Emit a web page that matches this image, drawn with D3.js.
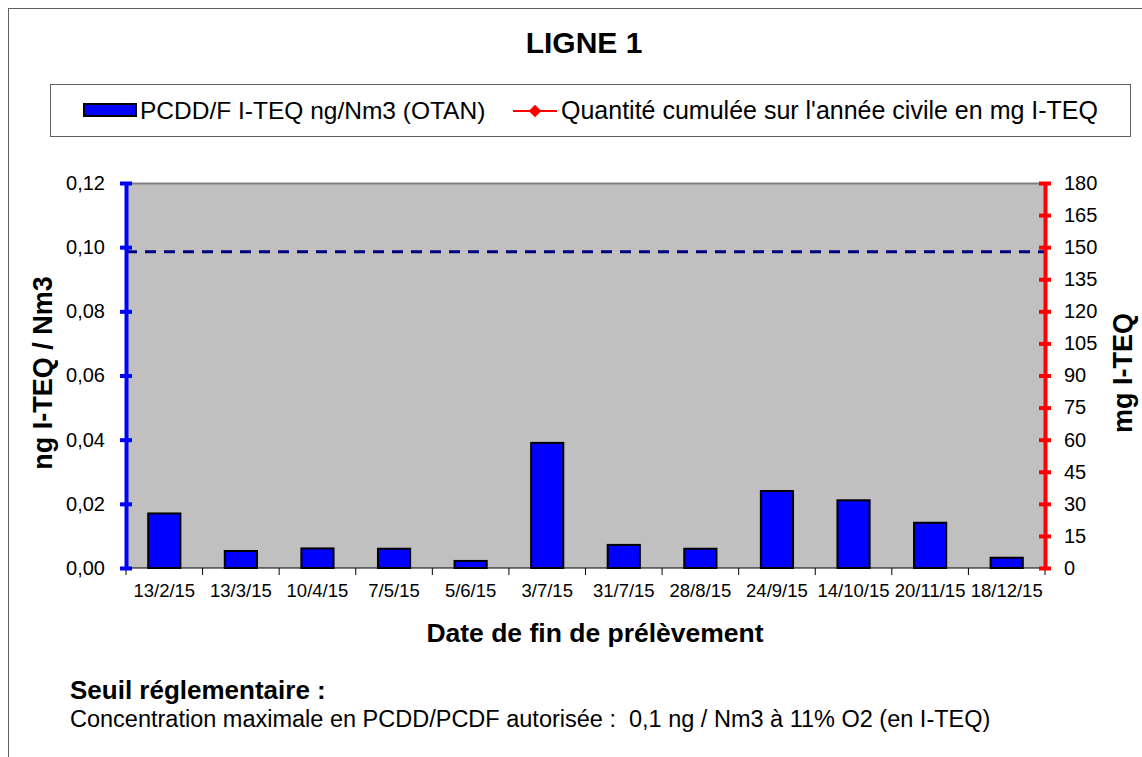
<!DOCTYPE html>
<html>
<head>
<meta charset="utf-8">
<script src="https://cdn.jsdelivr.net/npm/d3@7"></script>
<style>
  body { margin: 0; background: #fff; }
  text { font-family: "Liberation Sans", Arial, sans-serif; }
</style>
</head>
<body>
<div id="chart"></div>
<script>
var svgWidth = 1142;
var svgHeight = 757;

// data
var dates = ["13/2/15", "13/3/15", "10/4/15", "7/5/15", "5/6/15", "3/7/15",
  "31/7/15", "28/8/15", "24/9/15", "14/10/15", "20/11/15", "18/12/15"];
var pcddValues = [0.017, 0.0053, 0.0061, 0.006, 0.0022, 0.039,
  0.0072, 0.006, 0.024, 0.0211, 0.0141, 0.0032];
var cumulValues = []; // series in legend, nothing drawn
var leftTicks = [0, 0.02, 0.04, 0.06, 0.08, 0.10, 0.12];
var rightTicks = [0, 15, 30, 45, 60, 75, 90, 105, 120, 135, 150, 165, 180];
var seuil = 0.0986;

var margin = { top: 183, right: 97, bottom: 189, left: 126 };
var width = svgWidth - margin.left - margin.right;
var height = svgHeight - margin.top - margin.bottom;

var svg = d3.select("#chart")
  .append("svg")
  .attr("width", svgWidth)
  .attr("height", svgHeight);

// outer frame
svg.append("rect")
  .attr("x", 8.5).attr("y", 8.5)
  .attr("width", 1140).attr("height", 760)
  .attr("fill", "none")
  .attr("stroke", "#606060")
  .attr("stroke-width", 1);

svg.append("text")
  .attr("x", 584).attr("y", 53)
  .attr("text-anchor", "middle")
  .attr("font-size", "30px")
  .attr("font-weight", "bold")
  .text("LIGNE 1");

// legend
var legend = svg.append("g");
legend.append("rect")
  .attr("x", 50.5).attr("y", 84.5)
  .attr("width", 1080).attr("height", 52)
  .attr("fill", "#fff")
  .attr("stroke", "#606060");
legend.append("rect")
  .attr("x", 84).attr("y", 104)
  .attr("width", 52).attr("height", 12)
  .attr("fill", "#0000ff")
  .attr("stroke", "#000")
  .attr("stroke-width", 2);
legend.append("text")
  .attr("x", 140).attr("y", 119)
  .attr("font-size", "24.5px")
  .text("PCDD/F I-TEQ ng/Nm3 (OTAN)");
legend.append("line")
  .attr("x1", 513).attr("x2", 557)
  .attr("y1", 111).attr("y2", 111)
  .attr("stroke", "#ff0000").attr("stroke-width", 2);
legend.append("path")
  .attr("d", d3.symbol().type(d3.symbolSquare).size(80)())
  .attr("transform", "translate(535,111) rotate(45)")
  .attr("fill", "#ff0000");
legend.append("text")
  .attr("x", 561).attr("y", 119)
  .attr("font-size", "25px")
  .text("Quantité cumulée sur l'année civile en mg I-TEQ");

var chartGroup = svg.append("g")
  .attr("transform", `translate(${margin.left}, ${margin.top})`);

var xBandScale = d3.scaleBand()
  .domain(dates)
  .range([0, width])
  .paddingInner(0.58)
  .paddingOuter(0.29);

var yLeftScale = d3.scaleLinear().domain([0, 0.12]).range([height, 0]);
var yRightScale = d3.scaleLinear().domain([0, 180]).range([height, 0]);

// plot background
chartGroup.append("rect")
  .attr("width", width).attr("height", height)
  .attr("fill", "#c0c0c0");
chartGroup.append("line")
  .attr("x1", 0).attr("x2", width)
  .attr("y1", 0.5).attr("y2", 0.5)
  .attr("stroke", "#808080").attr("stroke-width", 2);

// bars
chartGroup.selectAll(".bar")
  .data(pcddValues)
  .enter()
  .append("rect")
  .attr("class", "bar")
  .attr("x", (d, i) => xBandScale(dates[i]))
  .attr("y", d => yLeftScale(d))
  .attr("width", xBandScale.bandwidth())
  .attr("height", d => height - yLeftScale(d))
  .attr("fill", "#0000ff")
  .attr("stroke", "#000")
  .attr("stroke-width", 2);

// threshold line
chartGroup.append("line")
  .attr("x1", 0).attr("x2", width)
  .attr("y1", yLeftScale(seuil)).attr("y2", yLeftScale(seuil))
  .attr("stroke", "#000080")
  .attr("stroke-width", 3)
  .attr("stroke-dasharray", "11,8");

// cumulative line (empty)
chartGroup.append("path")
  .datum(cumulValues)
  .attr("fill", "none")
  .attr("stroke", "#ff0000")
  .attr("stroke-width", 2)
  .attr("d", d3.line()
    .x((d, i) => xBandScale(dates[i]) + xBandScale.bandwidth() / 2)
    .y(d => yRightScale(d)));

// category axis
var step = xBandScale.step();
var bottomAxis = chartGroup.append("g")
  .attr("transform", `translate(0, ${height})`);
bottomAxis.append("line")
  .attr("x1", 0).attr("x2", width)
  .attr("stroke", "#000").attr("stroke-width", 1);
bottomAxis.selectAll(".tick")
  .data(d3.range(dates.length + 1))
  .enter()
  .append("line")
  .attr("x1", i => i * step).attr("x2", i => i * step)
  .attr("y1", 0).attr("y2", 7)
  .attr("stroke", "#000");
bottomAxis.selectAll(".lbl")
  .data(dates)
  .enter()
  .append("text")
  .attr("x", d => xBandScale(d) + xBandScale.bandwidth() / 2)
  .attr("y", 29)
  .attr("text-anchor", "middle")
  .attr("font-size", "18.5px")
  .text(d => d);

// left axis
var leftAxis = d3.axisLeft(yLeftScale)
  .tickValues(leftTicks)
  .tickSizeInner(6).tickSizeOuter(0)
  .tickFormat(d => d3.format(".2f")(d).replace(".", ","));
var gLeft = chartGroup.append("g").call(leftAxis);
gLeft.select(".domain").attr("stroke", "#0000ff").attr("stroke-width", 4);
gLeft.selectAll(".tick line")
  .attr("x1", 6).attr("x2", -6)
  .attr("stroke", "#0000ff").attr("stroke-width", 4);
gLeft.selectAll(".tick text")
  .attr("x", -21)
  .attr("font-size", "20px")
  .attr("font-family", "Liberation Sans, Arial, sans-serif")
  .attr("fill", "#000");

// right axis
var rightAxis = d3.axisRight(yRightScale)
  .tickValues(rightTicks)
  .tickSizeInner(6).tickSizeOuter(0);
var gRight = chartGroup.append("g")
  .attr("transform", `translate(${width}, 0)`)
  .call(rightAxis);
gRight.select(".domain").attr("stroke", "#ff0000").attr("stroke-width", 4);
gRight.selectAll(".tick line")
  .attr("x1", -6).attr("x2", 6)
  .attr("stroke", "#ff0000").attr("stroke-width", 4);
gRight.selectAll(".tick text")
  .attr("x", 19)
  .attr("font-size", "20px")
  .attr("font-family", "Liberation Sans, Arial, sans-serif")
  .attr("fill", "#000");

// axis titles
svg.append("text")
  .attr("transform", "translate(52, 373) rotate(-90)")
  .attr("text-anchor", "middle")
  .attr("font-size", "27px")
  .attr("font-weight", "bold")
  .text("ng I-TEQ / Nm3");
svg.append("text")
  .attr("transform", "translate(1132, 373) rotate(-90)")
  .attr("text-anchor", "middle")
  .attr("font-size", "27px")
  .attr("font-weight", "bold")
  .text("mg I-TEQ");
svg.append("text")
  .attr("x", 595).attr("y", 642)
  .attr("text-anchor", "middle")
  .attr("font-size", "26.5px")
  .attr("font-weight", "bold")
  .text("Date de fin de prélèvement");

// notes
svg.append("text")
  .attr("x", 70).attr("y", 699)
  .attr("font-size", "26px")
  .attr("font-weight", "bold")
  .text("Seuil réglementaire :");
svg.append("text")
  .attr("x", 70).attr("y", 727)
  .attr("font-size", "23.5px")
  .attr("xml:space", "preserve")
  .style("white-space", "pre")
  .text("Concentration maximale en PCDD/PCDF autorisée :  0,1 ng / Nm3 à 11% O2 (en I-TEQ)");
</script>
</body>
</html>
